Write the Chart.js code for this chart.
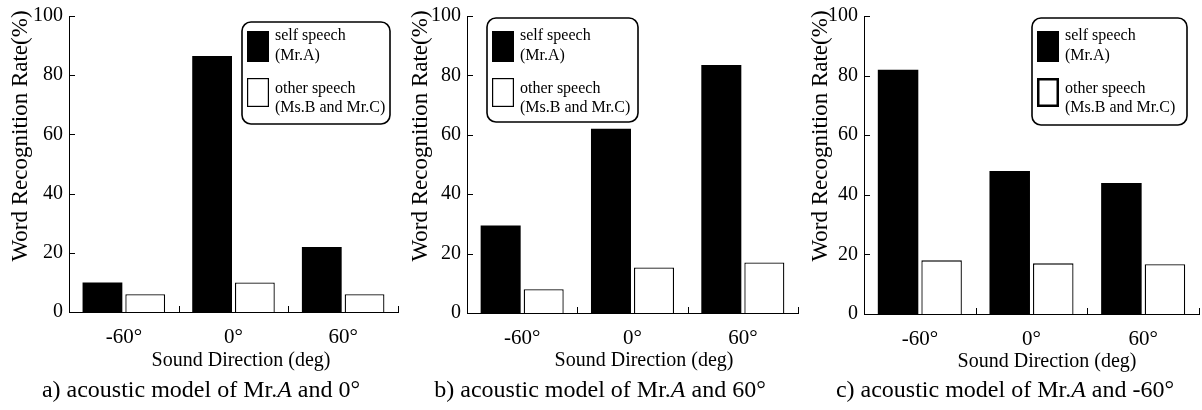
<!DOCTYPE html>
<html><head><meta charset="utf-8">
<script src="https://cdn.jsdelivr.net/npm/chart.js@4.4.1/dist/chart.umd.min.js"></script>
<style>
html,body{margin:0;padding:0;background:#fff;}
#wrap{position:relative;width:1202px;height:410px;overflow:hidden;}
.p{position:absolute;top:0;height:410px;}
</style></head><body>
<div id="wrap">
<div class="p" style="left:0;width:400px"><canvas id="cA"></canvas></div>
<div class="p" style="left:400px;width:400px"><canvas id="cB"></canvas></div>
<div class="p" style="left:800px;width:402px"><canvas id="cC"></canvas></div>
</div>
<script>
// ---- data ----
const categories = ['-60°', '0°', '60°'];
const selfA  = [10, 86.5, 22];
const otherA = [6, 10, 6];
const selfB  = [29.5, 62, 83.5];
const otherB = [8, 15.3, 17];
const selfC  = [82, 48, 44];
const otherC = [18, 17, 16.7];
const yTickValues = [0, 20, 40, 60, 80, 100];
const selfLabel  = ['self speech', '(Mr.A)'];
const otherLabel = ['other speech', '(Ms.B and Mr.C)'];
const yTitle = 'Word Recognition Rate(%)';
const xTitle = 'Sound Direction (deg)';
const captionA = ['a) acoustic model of Mr.', 'A', ' and 0°'];
const captionB = ['b) acoustic model of Mr.', 'A', ' and 60°'];
const captionC = ['c) acoustic model of Mr.', 'A', ' and -60°'];

// ---- layout / style (per panel) ----
const FONT = "'Liberation Serif', 'Times New Roman', serif";
const panels = [
  {id:'cA', w:400, self:selfA, other:otherA, caption:captionA,
   area:{l:69, r:398, t:16, b:312}, legend:{x:242, y:22, w:148, h:102, whiteBorder:1.2},
   yTitlePos:{x:20.5, y:136}, xTitlePos:{x:241, y:366}, capPos:{x:201, y:397}},
  {id:'cB', w:400, self:selfB, other:otherB, caption:captionB,
   area:{l:67, r:398, t:16, b:313}, legend:{x:87, y:18, w:151, h:104, whiteBorder:1.2},
   yTitlePos:{x:20.5, y:136}, xTitlePos:{x:244, y:366}, capPos:{x:200, y:397}},
  {id:'cC', w:402, self:selfC, other:otherC, caption:captionC,
   area:{l:64, r:399, t:16, b:314}, legend:{x:232, y:18, w:155, h:107, whiteBorder:2.5},
   yTitlePos:{x:20.5, y:136}, xTitlePos:{x:247, y:367}, capPos:{x:205, y:397}}
];

function makeChart(p) {
  const H = 410;
  const decor = {
    id: 'decor',
    afterDraw(chart) {
      const ctx = chart.ctx;
      const xs = chart.scales.x, ys = chart.scales.y;
      ctx.save();
      ctx.strokeStyle = '#000';
      ctx.fillStyle = '#000';
      ctx.lineWidth = 1;
      // inward y ticks
      yTickValues.forEach(v => {
        const y = Math.round(ys.getPixelForValue(v)) + 0.5;
        ctx.beginPath(); ctx.moveTo(xs.left, y); ctx.lineTo(xs.left + 6, y); ctx.stroke();
      });
      // inward x ticks at category boundaries
      for (let i = 1; i <= categories.length; i++) {
        const x = Math.round(xs.getPixelForValue(i - 0.5)) + 0.5;
        ctx.beginPath(); ctx.moveTo(x, ys.bottom); ctx.lineTo(x, ys.bottom - 6); ctx.stroke();
      }
      // y title
      ctx.save();
      ctx.translate(p.yTitlePos.x, p.yTitlePos.y);
      ctx.rotate(-Math.PI / 2);
      ctx.font = '23px ' + FONT;
      ctx.textAlign = 'center'; ctx.textBaseline = 'middle';
      ctx.fillText(yTitle, 0, 0);
      ctx.restore();
      // x title
      ctx.font = '20px ' + FONT;
      ctx.textAlign = 'center'; ctx.textBaseline = 'alphabetic';
      ctx.fillText(xTitle, p.xTitlePos.x, p.xTitlePos.y);
      // caption with italic A
      const fN = '24px ' + FONT, fI = 'italic 24px ' + FONT;
      ctx.font = fN; const w0 = ctx.measureText(p.caption[0]).width;
      ctx.font = fI; const w1 = ctx.measureText(p.caption[1]).width;
      ctx.font = fN; const w2 = ctx.measureText(p.caption[2]).width;
      let cx = p.capPos.x - (w0 + w1 + w2) / 2;
      ctx.textAlign = 'left';
      ctx.font = fN; ctx.fillText(p.caption[0], cx, p.capPos.y); cx += w0;
      ctx.font = fI; ctx.fillText(p.caption[1], cx, p.capPos.y); cx += w1;
      ctx.font = fN; ctx.fillText(p.caption[2], cx, p.capPos.y);
      // legend
      const L = p.legend;
      ctx.lineWidth = 1.6;
      ctx.beginPath();
      ctx.roundRect(L.x, L.y, L.w, L.h, 9);
      ctx.fillStyle = '#fff'; ctx.fill();
      ctx.stroke();
      const sx = L.x + 5, sw = 22;
      ctx.fillStyle = '#000';
      ctx.fillRect(sx, 31, sw, 31);
      ctx.lineWidth = L.whiteBorder;
      ctx.fillStyle = '#fff';
      const hb = L.whiteBorder / 2;
      ctx.fillRect(sx, 78, sw, 29);
      ctx.strokeRect(sx + hb, 78 + hb, sw - 2 * hb, 29 - 2 * hb);
      ctx.fillStyle = '#000';
      ctx.font = '16px ' + FONT;
      ctx.textAlign = 'left'; ctx.textBaseline = 'alphabetic';
      const tx = sx + sw + 6;
      ctx.fillText(selfLabel[0], tx, 40);
      ctx.fillText(selfLabel[1], tx, 60);
      ctx.fillText(otherLabel[0], tx, 93);
      ctx.fillText(otherLabel[1], tx, 112);
      ctx.restore();
    }
  };
  return new Chart(document.getElementById(p.id), {
    type: 'bar',
    data: {
      labels: categories,
      datasets: [
        {label: selfLabel.join(' '), data: p.self, backgroundColor: '#000', borderColor: '#000', borderWidth: 0,
         barPercentage: 0.93, categoryPercentage: 0.78},
        {label: otherLabel.join(' '), data: p.other, backgroundColor: '#fff', borderColor: '#000', borderWidth: 1.3,
         barPercentage: 0.93, categoryPercentage: 0.78}
      ]
    },
    options: {
      responsive: false,
      animation: false,
      devicePixelRatio: 1,
      layout: {padding: {left: 0, right: p.w - p.area.r, top: p.area.t, bottom: 0}},
      plugins: {legend: {display: false}, tooltip: {enabled: false}, title: {display: false}},
      scales: {
        x: {
          grid: {display: false, drawTicks: false},
          border: {display: true, color: '#000', width: 1},
          ticks: {color: '#000', font: {family: FONT, size: 21}, padding: 13, maxRotation: 0},
          afterFit(s) { s.height = H - p.area.b; s.paddingLeft = 0; s.paddingRight = 0; }
        },
        y: {
          min: 0, max: 100,
          grid: {display: false, drawTicks: false},
          border: {display: true, color: '#000', width: 1},
          ticks: {color: '#000', font: {family: FONT, size: 20}, padding: 6, stepSize: 20,
                  callback: (v) => yTickValues.includes(v) ? String(v) : ''},
          afterFit(s) { s.width = p.area.l; s.paddingTop = 0; s.paddingBottom = 0; }
        }
      }
    },
    plugins: [decor]
  });
}

panels.forEach(p => {
  const c = document.getElementById(p.id);
  c.width = p.w; c.height = 410;
  c.style.width = p.w + 'px'; c.style.height = '410px';
  makeChart(p);
});
</script>
</body></html>
